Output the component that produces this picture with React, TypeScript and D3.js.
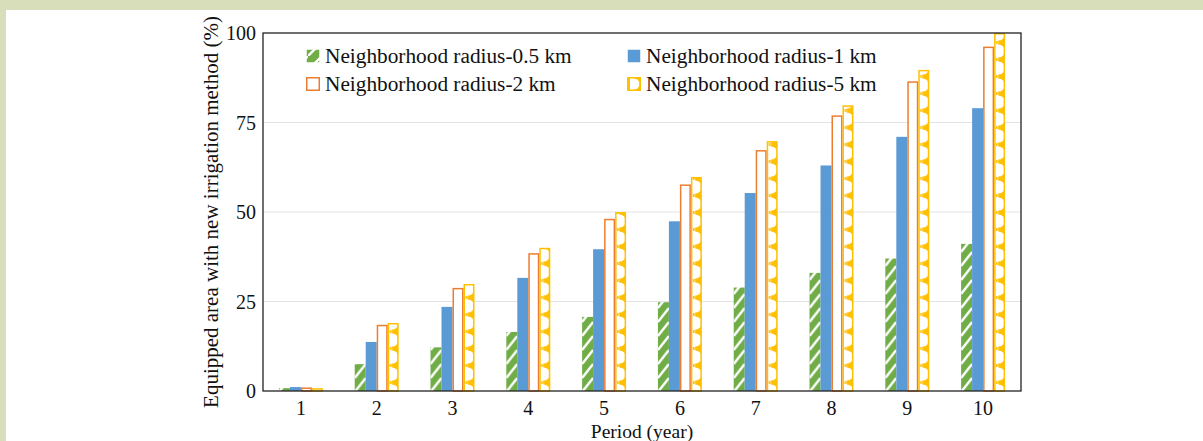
import React from "react";
import * as d3 from "d3";

const periods = ["1", "2", "3", "4", "5", "6", "7", "8", "9", "10"];
const seriesNames = [
  "Neighborhood radius-0.5 km",
  "Neighborhood radius-1 km",
  "Neighborhood radius-2 km",
  "Neighborhood radius-5 km",
];
const r05 = [0.8, 7.5, 12.2, 16.5, 20.7, 24.8, 28.9, 33.0, 37.0, 41.1];
const r1 = [1.1, 13.7, 23.5, 31.6, 39.6, 47.4, 55.3, 63.0, 71.0, 79.0];
const r2 = [1.0, 18.5, 28.8, 38.5, 48.1, 57.7, 67.3, 77.0, 86.5, 96.2];
const r5 = [0.8, 19.0, 29.9, 40.0, 50.0, 59.8, 69.8, 79.8, 89.7, 100];
const yTicks = [0, 25, 50, 75, 100];

const W = 1203;
const H = 441;
const plot = { left: 263, right: 1021, top: 33, bottom: 391 };
const FONT = "'Liberation Serif', 'Times New Roman', serif";

const GREEN = "#70AD47";
const BLUE = "#5B9BD5";
const ORANGE = "#ED7D31";
const YELLOW = "#FFC000";

export default function App() {
  const x = d3
    .scaleBand<string>()
    .domain(periods)
    .range([plot.left, plot.right])
    .paddingInner(0.42)
    .paddingOuter(0.21);
  const xs = d3
    .scaleBand<number>()
    .domain([0, 1, 2, 3])
    .range([0, x.bandwidth()]);
  const y = d3.scaleLinear().domain([0, 100]).range([plot.bottom, plot.top]);
  const bw = xs.bandwidth();
  const step = x.step();
  const series = [r05, r1, r2, r5];

  const gX0 = (x(periods[0]) as number) + (xs(0) as number);
  const yX0 = (x(periods[0]) as number) + (xs(3) as number);
  const gP = 14;
  const yP = 17;

  const fills = ["url(#greenPat)", BLUE, "#ffffff", "url(#yellowPat)"];
  const strokes = ["none", "none", ORANGE, YELLOW];

  return (
    <svg
      width={W}
      height={H}
      style={{ position: "absolute", left: 0, top: 0, display: "block" }}
      fontFamily={FONT}
    >
      <defs>
        <pattern id="greenPat" patternUnits="userSpaceOnUse" x={gX0} y={0} width={step} height={gP}>
          <rect x={0} y={0} width={step} height={gP} fill={GREEN} />
          {[-gP, 0, gP].map((o) => (
            <line key={o} x1={0} y1={gP + o} x2={bw} y2={o} stroke="#fff" strokeWidth={2.4} />
          ))}
        </pattern>
        <pattern id="greenLeg" patternUnits="userSpaceOnUse" x={0} y={0} width={14} height={14}>
          <rect width={14} height={14} fill={GREEN} />
          <line x1={0} y1={14} x2={14} y2={0} stroke="#fff" strokeWidth={2.4} />
        </pattern>
        <pattern id="yellowPat" patternUnits="userSpaceOnUse" x={yX0} y={plot.bottom} width={step} height={yP}>
          <rect x={0} y={0} width={step} height={yP} fill="#fff" />
          <rect x={bw * 0.38} y={0} width={bw * 0.62} height={yP} fill={YELLOW} />
          <circle cx={bw * 0.38} cy={0} r={6.6} fill="#fff" />
          <circle cx={bw * 0.38} cy={yP} r={6.6} fill="#fff" />
          <rect x={2} y={yP / 2 - 1.5} width={1.6} height={3} fill={YELLOW} />
        </pattern>
        <pattern id="yellowLeg" patternUnits="userSpaceOnUse" x={0} y={0} width={14} height={14}>
          <rect width={14} height={14} fill="#fff" />
          <rect x={4} y={0} width={10} height={14} fill={YELLOW} />
          <circle cx={4} cy={0} r={5.5} fill="#fff" />
          <circle cx={4} cy={14} r={5.5} fill="#fff" />
        </pattern>
      </defs>

      <rect x={0} y={0} width={W} height={H} fill="#fff" />
      <rect x={0} y={0} width={W} height={10} fill="#d8deb9" />
      <rect x={0} y={0} width={6} height={H} fill="#d8deb9" />

      {yTicks
        .filter((t) => t > 0 && t < 100)
        .map((t) => (
          <line key={t} x1={plot.left} x2={plot.right} y1={y(t)} y2={y(t)} stroke="#e3e3e3" strokeWidth={1} />
        ))}

      {series.map((vals, si) =>
        vals.map((v, i) => {
          const bx = (x(periods[i]) as number) + (xs(si) as number);
          const top = y(v);
          const hasStroke = strokes[si] !== "none";
          const inset = hasStroke ? 0.75 : 0;
          return (
            <rect
              key={si + "-" + i}
              x={bx + inset}
              y={top + inset}
              width={bw - inset * 2}
              height={Math.max(0, plot.bottom - top - inset)}
              fill={fills[si]}
              stroke={strokes[si]}
              strokeWidth={hasStroke ? 1.5 : 0}
            />
          );
        })
      )}

      <rect
        x={plot.left}
        y={plot.top}
        width={plot.right - plot.left}
        height={plot.bottom - plot.top}
        fill="none"
        stroke="#222"
        strokeWidth={1.3}
      />

      {yTicks.map((t) => (
        <text key={t} x={plot.left - 7} y={y(t)} dy="0.35em" textAnchor="end" fontSize={20} fill="#111">
          {t}
        </text>
      ))}
      {periods.map((p) => (
        <text
          key={p}
          x={(x(p) as number) + x.bandwidth() / 2}
          y={plot.bottom + 17}
          dy="0.35em"
          textAnchor="middle"
          fontSize={20}
          fill="#111"
        >
          {p}
        </text>
      ))}
      <text x={(plot.left + plot.right) / 2} y={437.5} textAnchor="middle" fontSize={19.5} fill="#111">
        Period (year)
      </text>
      <text
        transform={`translate(211, ${(plot.top + plot.bottom) / 2}) rotate(-90)`}
        textAnchor="middle"
        dy="0.35em"
        fontSize={21}
        fill="#111"
      >
        Equipped area with new irrigation method (%)
      </text>

      {seriesNames.map((name, si) => {
        const col = si % 2;
        const row = si < 2 ? 0 : 1;
        const lx = col === 0 ? 306 : 627;
        const ly = row === 0 ? 56 : 84;
        const legFill = si === 0 ? "url(#greenLeg)" : si === 1 ? BLUE : si === 2 ? "#fff" : "url(#yellowLeg)";
        const legStroke = si === 2 ? ORANGE : si === 3 ? YELLOW : "none";
        return (
          <g key={name}>
            <rect
              x={lx + 0.75}
              y={ly - 7 + 0.75}
              width={12.5}
              height={12.5}
              fill={legFill}
              stroke={legStroke}
              strokeWidth={legStroke === "none" ? 0 : 1.5}
            />
            <text x={lx + 19} y={ly} dy="0.35em" fontSize={21.3} fill="#111">
              {name}
            </text>
          </g>
        );
      })}
    </svg>
  );
}
